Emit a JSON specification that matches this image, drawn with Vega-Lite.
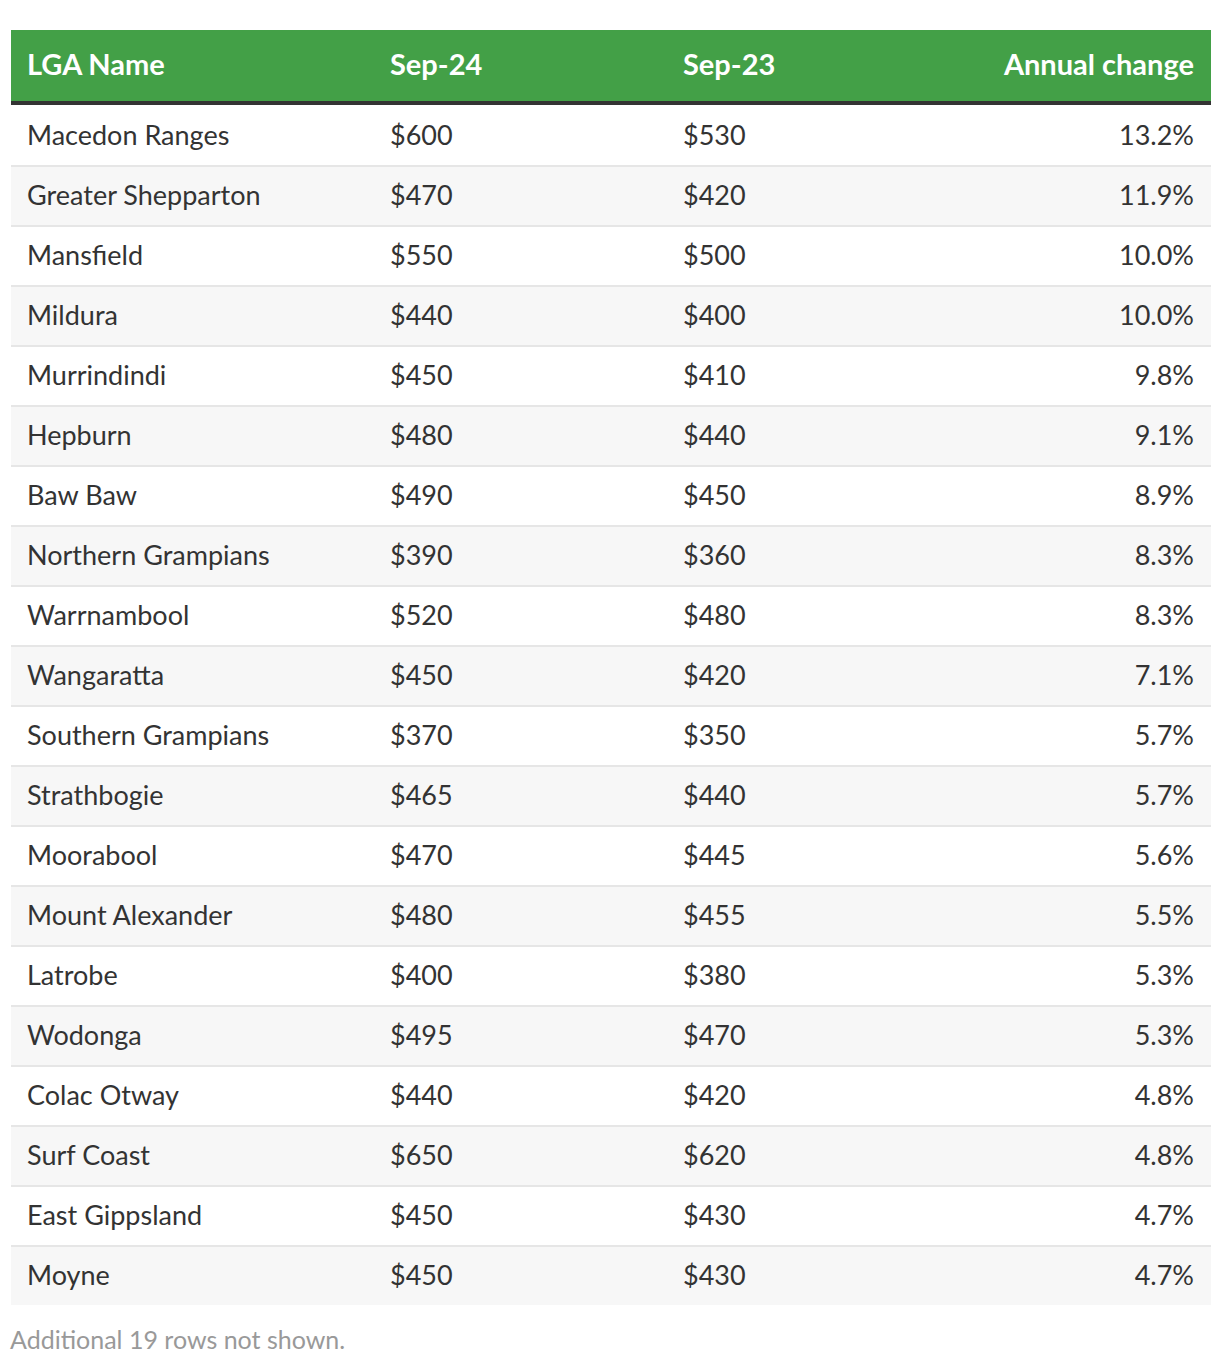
{
  "$schema": "https://vega.github.io/schema/vega-lite/v6.json",
  "padding": {"left": 10, "top": 30, "right": 10, "bottom": 10},
  "background": "white",
  "config": {"view": {"stroke": null}, "font": "Lato"},
  "spacing": 0,
  "title": {"text": "Additional 19 rows not shown.", "orient": "bottom", "anchor": "start", "fontSize": 25, "fontWeight": "normal", "color": "#999999", "font": "Lato", "offset": 24},
  "datasets": {
    "header": [
      {"label": "LGA Name", "col": "name"},
      {"label": "Sep-24", "col": "sep24"},
      {"label": "Sep-23", "col": "sep23"},
      {"label": "Annual change", "col": "change"}
    ],
    "rows": [
      {"rank": 1, "name": "Macedon Ranges", "sep24": "$600", "sep23": "$530", "change": "13.2%"},
      {"rank": 2, "name": "Greater Shepparton", "sep24": "$470", "sep23": "$420", "change": "11.9%"},
      {"rank": 3, "name": "Mansfield", "sep24": "$550", "sep23": "$500", "change": "10.0%"},
      {"rank": 4, "name": "Mildura", "sep24": "$440", "sep23": "$400", "change": "10.0%"},
      {"rank": 5, "name": "Murrindindi", "sep24": "$450", "sep23": "$410", "change": "9.8%"},
      {"rank": 6, "name": "Hepburn", "sep24": "$480", "sep23": "$440", "change": "9.1%"},
      {"rank": 7, "name": "Baw Baw", "sep24": "$490", "sep23": "$450", "change": "8.9%"},
      {"rank": 8, "name": "Northern Grampians", "sep24": "$390", "sep23": "$360", "change": "8.3%"},
      {"rank": 9, "name": "Warrnambool", "sep24": "$520", "sep23": "$480", "change": "8.3%"},
      {"rank": 10, "name": "Wangaratta", "sep24": "$450", "sep23": "$420", "change": "7.1%"},
      {"rank": 11, "name": "Southern Grampians", "sep24": "$370", "sep23": "$350", "change": "5.7%"},
      {"rank": 12, "name": "Strathbogie", "sep24": "$465", "sep23": "$440", "change": "5.7%"},
      {"rank": 13, "name": "Moorabool", "sep24": "$470", "sep23": "$445", "change": "5.6%"},
      {"rank": 14, "name": "Mount Alexander", "sep24": "$480", "sep23": "$455", "change": "5.5%"},
      {"rank": 15, "name": "Latrobe", "sep24": "$400", "sep23": "$380", "change": "5.3%"},
      {"rank": 16, "name": "Wodonga", "sep24": "$495", "sep23": "$470", "change": "5.3%"},
      {"rank": 17, "name": "Colac Otway", "sep24": "$440", "sep23": "$420", "change": "4.8%"},
      {"rank": 18, "name": "Surf Coast", "sep24": "$650", "sep23": "$620", "change": "4.8%"},
      {"rank": 19, "name": "East Gippsland", "sep24": "$450", "sep23": "$430", "change": "4.7%"},
      {"rank": 20, "name": "Moyne", "sep24": "$450", "sep23": "$430", "change": "4.7%"}
    ]
  },
  "vconcat": [
    {
      "width": 1200,
      "height": 74,
      "data": {"name": "header"},
      "layer": [
        {
          "mark": {"type": "rect", "color": "#43a047"},
          "encoding": {
            "x": {"datum": 0, "type": "quantitative", "scale": {"domain": [0, 1200], "nice": false}, "axis": null},
            "x2": {"datum": 1200},
            "y": {"datum": 0, "type": "quantitative", "scale": {"domain": [0, 74], "nice": false, "reverse": true}, "axis": null},
            "y2": {"datum": 71}
          }
        },
        {
          "mark": {"type": "rect", "color": "#333333"},
          "encoding": {
            "x": {"datum": 0, "type": "quantitative"},
            "x2": {"datum": 1200},
            "y": {"datum": 71, "type": "quantitative"},
            "y2": {"datum": 75}
          }
        },
        {
          "transform": [{"filter": "datum.col === 'name'"}],
          "mark": {"type": "text", "align": "left", "baseline": "middle", "fontSize": 29, "fontWeight": "bold", "color": "white"},
          "encoding": {"x": {"datum": 16, "type": "quantitative"}, "y": {"datum": 36, "type": "quantitative"}, "text": {"field": "label"}}
        },
        {
          "transform": [{"filter": "datum.col === 'sep24'"}],
          "mark": {"type": "text", "align": "left", "baseline": "middle", "fontSize": 29, "fontWeight": "bold", "color": "white"},
          "encoding": {"x": {"datum": 379, "type": "quantitative"}, "y": {"datum": 36, "type": "quantitative"}, "text": {"field": "label"}}
        },
        {
          "transform": [{"filter": "datum.col === 'sep23'"}],
          "mark": {"type": "text", "align": "left", "baseline": "middle", "fontSize": 29, "fontWeight": "bold", "color": "white"},
          "encoding": {"x": {"datum": 672, "type": "quantitative"}, "y": {"datum": 36, "type": "quantitative"}, "text": {"field": "label"}}
        },
        {
          "transform": [{"filter": "datum.col === 'change'"}],
          "mark": {"type": "text", "align": "right", "baseline": "middle", "fontSize": 29, "fontWeight": "bold", "color": "white"},
          "encoding": {"x": {"datum": 1183, "type": "quantitative"}, "y": {"datum": 36, "type": "quantitative"}, "text": {"field": "label"}}
        }
      ]
    },
    {
      "width": 1200,
      "height": 1200,
      "data": {"name": "rows"},
      "transform": [{"calculate": "datum.rank % 2 === 0 ? 'even' : 'odd'", "as": "stripe"}],
      "encoding": {
        "y": {"field": "rank", "type": "ordinal", "scale": {"paddingInner": 0, "paddingOuter": 0}, "axis": null}
      },
      "layer": [
        {
          "mark": {"type": "rect"},
          "encoding": {
            "x": {"datum": 0, "type": "quantitative", "scale": {"domain": [0, 1200], "nice": false}, "axis": null},
            "x2": {"datum": 1200},
            "color": {"field": "stripe", "type": "nominal", "scale": {"domain": ["odd", "even"], "range": ["#ffffff", "#f7f7f7"]}, "legend": null}
          }
        },
        {
          "transform": [{"filter": "datum.rank > 1"}],
          "mark": {"type": "rule", "color": "#e6e6e6", "strokeWidth": 2, "yOffset": 1},
          "encoding": {
            "x": {"datum": 0, "type": "quantitative"},
            "x2": {"datum": 1200},
            "y": {"field": "rank", "type": "ordinal", "bandPosition": 0}
          }
        },
        {
          "mark": {"type": "text", "align": "left", "baseline": "middle", "fontSize": 27, "color": "#333333", "yOffset": 2},
          "encoding": {"x": {"datum": 16, "type": "quantitative"}, "text": {"field": "name"}}
        },
        {
          "mark": {"type": "text", "align": "left", "baseline": "middle", "fontSize": 27, "color": "#333333", "yOffset": 2},
          "encoding": {"x": {"datum": 379, "type": "quantitative"}, "text": {"field": "sep24"}}
        },
        {
          "mark": {"type": "text", "align": "left", "baseline": "middle", "fontSize": 27, "color": "#333333", "yOffset": 2},
          "encoding": {"x": {"datum": 672, "type": "quantitative"}, "text": {"field": "sep23"}}
        },
        {
          "mark": {"type": "text", "align": "right", "baseline": "middle", "fontSize": 27, "color": "#333333", "yOffset": 2},
          "encoding": {"x": {"datum": 1183, "type": "quantitative"}, "text": {"field": "change"}}
        }
      ]
    }
  ]
}
